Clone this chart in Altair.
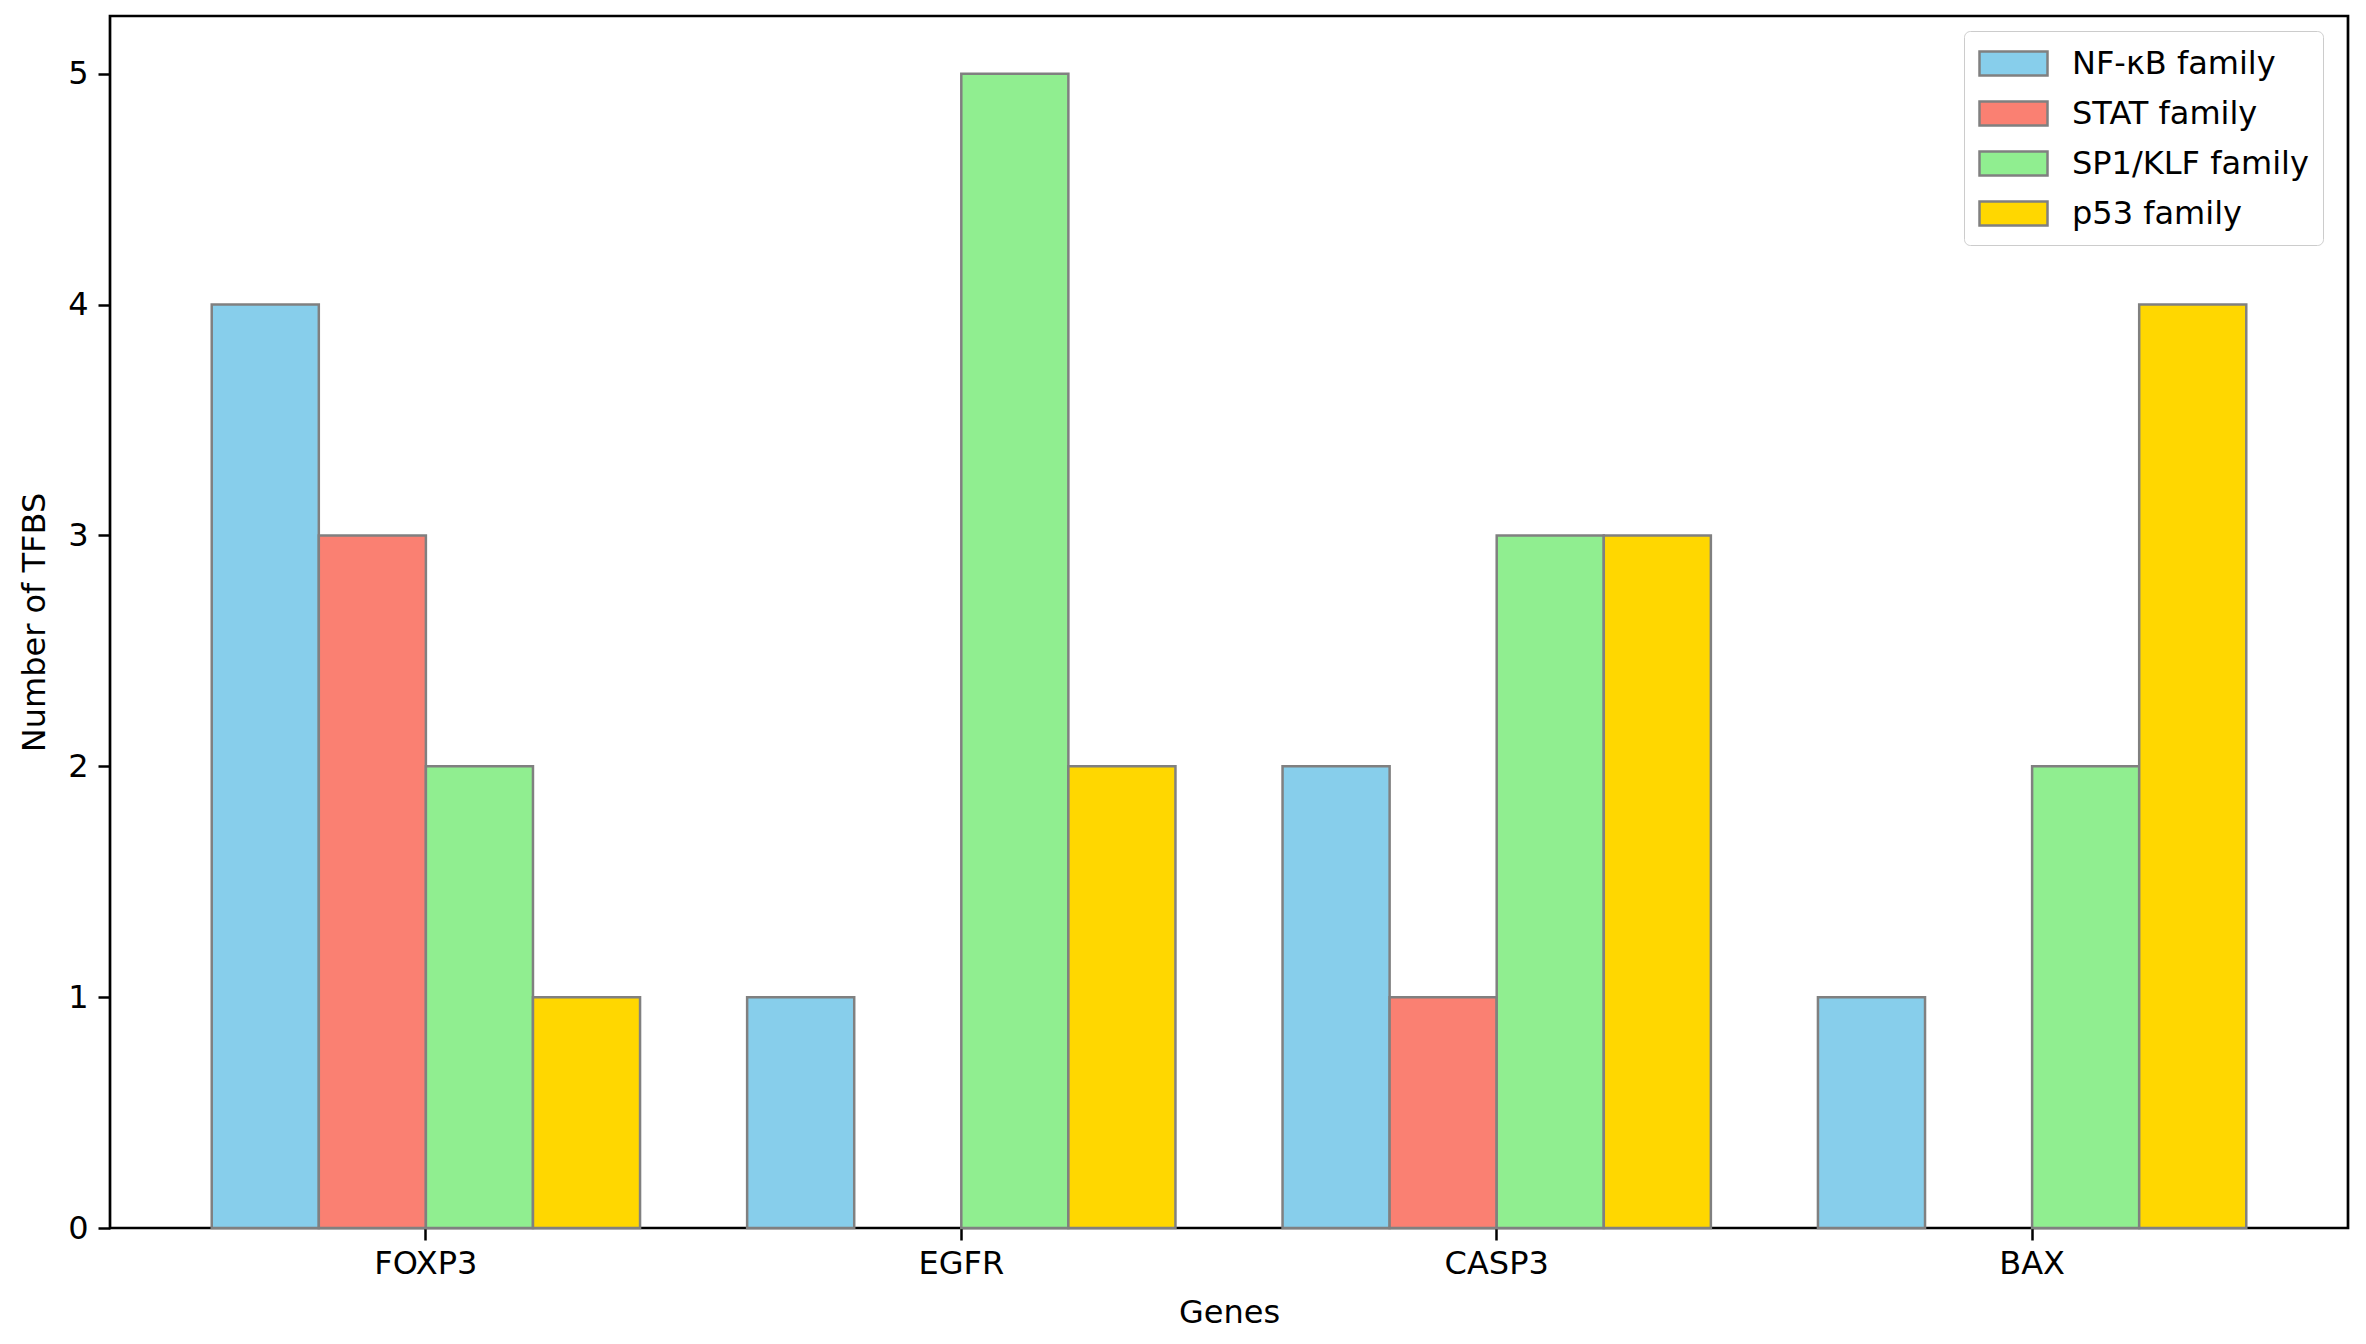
import altair as alt
import pandas as pd

genes = ["FOXP3", "EGFR", "CASP3", "BAX"]
families = ["NF-κB family", "STAT family", "SP1/KLF family", "p53 family"]
nfkb = [4, 1, 2, 1]
stat = [3, 0, 1, 0]
sp1 = [2, 5, 3, 2]
p53 = [1, 2, 3, 4]
colors = ["#87CEEB", "#FA8072", "#90EE90", "#FFD700"]

series = [nfkb, stat, sp1, p53]
rows = []
for fam, vals in zip(families, series):
    for g, v in zip(genes, vals):
        rows.append({"gene": g, "family": fam, "count": v})
df = pd.DataFrame(rows)

FONT = "DejaVu Sans"

chart = alt.Chart(df).transform_filter("datum.count > 0").mark_bar(
    stroke="#808080", strokeWidth=2.5
).encode(
    x=alt.X("gene:N", sort=genes, title="Genes",
            scale=alt.Scale(domain=genes, paddingInner=0.2, paddingOuter=0.19),
            axis=alt.Axis(labelAngle=0, tickSize=12, tickWidth=2.5, tickColor="black",
                          labelPadding=8, titlePadding=18, domain=False)),
    xOffset=alt.XOffset("family:N", sort=families,
                        scale=alt.Scale(domain=families, paddingInner=0, paddingOuter=0)),
    y=alt.Y("count:Q", title="Number of TFBS",
            scale=alt.Scale(domain=[0, 5.25], nice=False),
            axis=alt.Axis(values=[0, 1, 2, 3, 4, 5], grid=False, tickSize=12, tickWidth=2.5,
                          tickColor="black", labelPadding=10, titlePadding=16, domain=False)),
    color=alt.Color("family:N", sort=families,
                    scale=alt.Scale(domain=families, range=colors),
                    legend=alt.Legend(title=None, orient="none", legendX=1854, legendY=15,
                                      symbolType="M-2,-0.706H2V0.706H-2Z", symbolSize=1156,
                                      symbolStrokeColor="#808080", symbolStrokeWidth=2.5,
                                      symbolOpacity=1, symbolOffset=17,
                                      labelFontSize=32, labelFont=FONT, labelColor="black",
                                      labelLimit=0,
                                      labelOffset=40, rowPadding=14, padding=14,
                                      strokeColor="#cccccc", fillColor="white",
                                      cornerRadius=6)),
).properties(
    width=2238, height=1212,
    padding={"left": 10, "top": 8, "right": 5, "bottom": 5},
).configure_view(
    stroke="black", strokeWidth=2.7
).configure_axis(
    labelFont=FONT, titleFont=FONT, labelFontSize=32, titleFontSize=32,
    labelColor="black", titleColor="black", titleFontWeight="normal"
)

chart.save("out.html", embed_options={"renderer": "svg", "actions": False})
